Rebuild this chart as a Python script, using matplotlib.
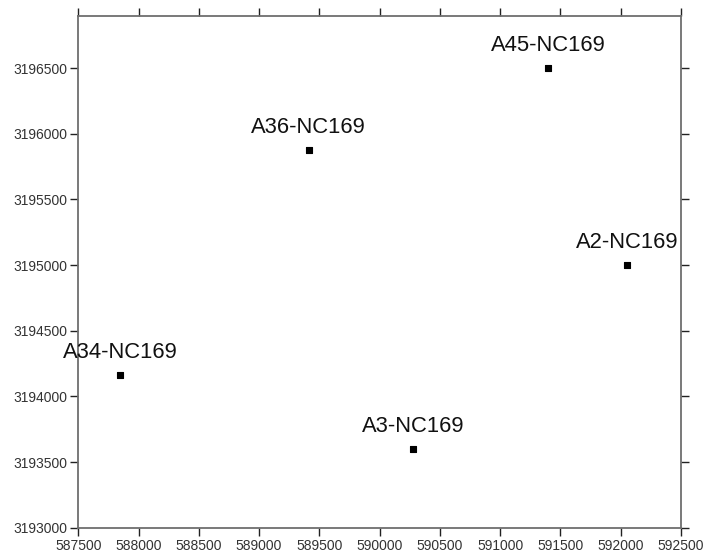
import matplotlib
matplotlib.use("Agg")
import matplotlib.pyplot as plt
from matplotlib.ticker import MultipleLocator, FormatStrFormatter

names = ["A45-NC169", "A36-NC169", "A2-NC169", "A34-NC169", "A3-NC169"]
xs = [591400, 589410, 592050, 587845, 590275]
ys = [3196505, 3195875, 3195000, 3194162, 3193600]

plt.rcParams['font.family'] = ['Liberation Sans', 'DejaVu Sans']

fig = plt.figure(figsize=(7.04, 5.56), dpi=100)
ax = fig.add_axes([0.1112, 0.0509, 0.9673 - 0.1112, 0.9718 - 0.0509])

ax.scatter(xs, ys, marker='s', s=18, color='black', edgecolors='black',
           linewidths=0.8, zorder=3)
for n, x, y in zip(names, xs, ys):
    ax.annotate(n, (x, y), xytext=(0, 17), textcoords='offset pixels',
                ha='center', va='baseline', fontsize=15.8, color='#111111')

ax.set_xlim(587500, 592500)
ax.set_ylim(3193000, 3196900)
ax.xaxis.set_major_locator(MultipleLocator(500))
ax.yaxis.set_major_locator(MultipleLocator(500))
ax.xaxis.set_major_formatter(FormatStrFormatter('%d'))
ax.yaxis.set_major_formatter(FormatStrFormatter('%d'))

for s in ax.spines.values():
    s.set_color('#6e6e6e')
    s.set_linewidth(1.3)

ax.tick_params(axis='both', which='both', direction='out', length=6, width=1.0,
               color='#222222', labelsize=10, labelcolor='#333333', pad=2)
ax.tick_params(axis='x', top=True, labeltop=False)
ax.tick_params(axis='y', right=True, labelright=False)

fig.savefig('out.png', dpi=100)
